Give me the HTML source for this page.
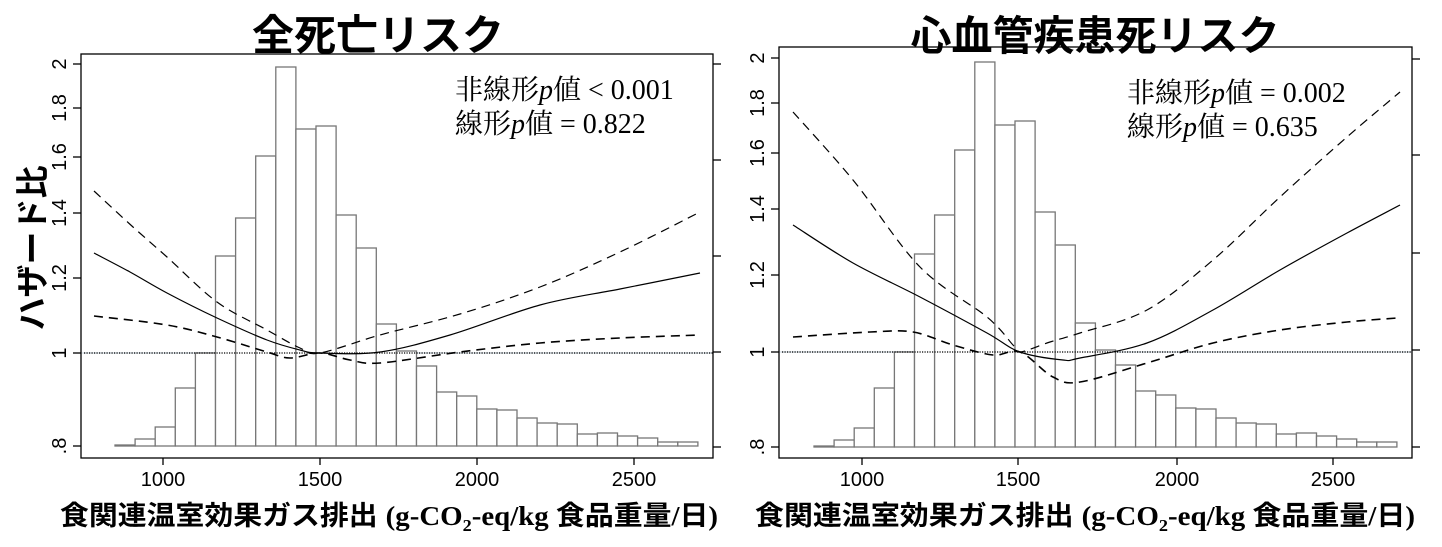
<!DOCTYPE html>
<html><head><meta charset="utf-8"><style>
html,body{margin:0;padding:0;background:#fff;}
svg{display:block;}
.t{font-family:"Liberation Sans","Noto Sans CJK JP",sans-serif;}
.s{font-family:"Liberation Serif","Noto Serif CJK SC",serif;}
</style></head><body>
<svg width="1442" height="547" viewBox="0 0 1442 547" xmlns="http://www.w3.org/2000/svg">
<text x="378" y="50" text-anchor="middle" class="t" font-size="42" font-weight="bold">全死亡リスク</text>
<text x="1095" y="50" text-anchor="middle" class="t" font-size="41" font-weight="bold">心血管疾患死リスク</text>
<text transform="translate(44,248) rotate(-90)" text-anchor="middle" class="t" font-size="33" font-weight="bold">ハザード比</text>

<g>
<line x1="81" y1="353" x2="713" y2="353" stroke="#e3e9ee" stroke-width="2"/>
<g fill="#fff" stroke="#777" stroke-width="1.3">
<rect x="115" y="445" width="20.1" height="1"/>
<rect x="135.1" y="439" width="20.1" height="7"/>
<rect x="155.2" y="427" width="20.1" height="19"/>
<rect x="175.3" y="388" width="20.1" height="58"/>
<rect x="195.4" y="353" width="20.1" height="93"/>
<rect x="215.5" y="256" width="20.1" height="190"/>
<rect x="235.6" y="218" width="20.1" height="228"/>
<rect x="255.7" y="156" width="20.1" height="290"/>
<rect x="275.8" y="67" width="20.1" height="379"/>
<rect x="295.9" y="129" width="20.1" height="317"/>
<rect x="316" y="126" width="20.1" height="320"/>
<rect x="336.1" y="215" width="20.1" height="231"/>
<rect x="356.2" y="248" width="20.1" height="198"/>
<rect x="376.3" y="324" width="20.1" height="122"/>
<rect x="396.4" y="351" width="20.1" height="95"/>
<rect x="416.5" y="366" width="20.1" height="80"/>
<rect x="436.6" y="392" width="20.1" height="54"/>
<rect x="456.7" y="396" width="20.1" height="50"/>
<rect x="476.8" y="409" width="20.1" height="37"/>
<rect x="496.9" y="410" width="20.1" height="36"/>
<rect x="517" y="418" width="20.1" height="28"/>
<rect x="537.1" y="423" width="20.1" height="23"/>
<rect x="557.2" y="424" width="20.1" height="22"/>
<rect x="577.3" y="434" width="20.1" height="12"/>
<rect x="597.4" y="433" width="20.1" height="13"/>
<rect x="617.5" y="436" width="20.1" height="10"/>
<rect x="637.6" y="438" width="20.1" height="8"/>
<rect x="657.7" y="442" width="20.1" height="4"/>
<rect x="677.8" y="442" width="20.1" height="4"/>
</g>
<line x1="84" y1="353" x2="713" y2="353" stroke="#000" stroke-width="1.3" stroke-dasharray="1.2,1.3"/>
<g fill="none" stroke="#000" stroke-width="1.2">
<path class="cr" data-p="94,253 130,272 167,293 217,318 267,340 300,350 320,353 380,352 450,335 540,305 620,289 700,273"/>
<path class="cr" stroke-dasharray="9,6" data-p="94,191 133,227 167,257 217,302 267,330 300,348 320,353 380,335 460,314 540,287 620,252 700,212"/>
<path class="cr" stroke-dasharray="9,6" stroke-width="1.6" data-p="94,316 167,325 217,337 267,352 290,358 320,353 350,360 380,363 460,352 540,343 620,338 700,335"/>
</g>
<rect x="81" y="54" width="632" height="404" fill="none" stroke="#000" stroke-width="1.3"/>
<g stroke="#000" stroke-width="1.3">
<line x1="73" y1="64" x2="81" y2="64"/><line x1="73" y1="108" x2="81" y2="108"/><line x1="73" y1="157" x2="81" y2="157"/><line x1="73" y1="213" x2="81" y2="213"/><line x1="73" y1="278" x2="81" y2="278"/><line x1="73" y1="353" x2="81" y2="353"/><line x1="73" y1="446" x2="81" y2="446"/>
<line x1="713" y1="64" x2="721" y2="64"/><line x1="713" y1="160" x2="721" y2="160"/><line x1="713" y1="256" x2="721" y2="256"/><line x1="713" y1="352" x2="721" y2="352"/><line x1="713" y1="447" x2="721" y2="447"/>
<line x1="163" y1="458" x2="163" y2="465"/><line x1="320" y1="458" x2="320" y2="465"/><line x1="477" y1="458" x2="477" y2="465"/><line x1="634" y1="458" x2="634" y2="465"/>
</g>
<g class="t" font-size="20" text-anchor="middle">
<text transform="translate(66,64) rotate(-90)">2</text>
<text transform="translate(66,108) rotate(-90)">1.8</text>
<text transform="translate(66,157) rotate(-90)">1.6</text>
<text transform="translate(66,213) rotate(-90)">1.4</text>
<text transform="translate(66,278) rotate(-90)">1.2</text>
<text transform="translate(66,353) rotate(-90)">1</text>
<text transform="translate(66,446) rotate(-90)">.8</text>
<text x="163" y="486">1000</text><text x="320" y="486">1500</text><text x="477" y="486">2000</text><text x="634" y="486">2500</text>
</g>
<text x="455" y="99" class="s" font-size="28">非線形<tspan font-style="italic">p</tspan>値 &lt; 0.001</text>
<text x="455" y="133" class="s" font-size="28">線形<tspan font-style="italic">p</tspan>値 = 0.822</text>
<text x="60" y="525" textLength="658" lengthAdjust="spacingAndGlyphs" class="t" font-size="27" font-weight="bold">食関連温室効果ガス排出 <tspan class="s">(g-CO<tspan font-size="17" dy="6">2</tspan><tspan dy="-6">-eq/kg </tspan></tspan>食品重量<tspan class="s">/</tspan>日<tspan class="s">)</tspan></text>
</g>

<g>
<line x1="779" y1="352" x2="1412" y2="352" stroke="#e3e9ee" stroke-width="2"/>
<g fill="#fff" stroke="#777" stroke-width="1.3">
<rect x="814" y="446" width="20.1" height="1"/>
<rect x="834.1" y="440" width="20.1" height="7"/>
<rect x="854.2" y="428" width="20.1" height="19"/>
<rect x="874.3" y="388" width="20.1" height="59"/>
<rect x="894.4" y="352" width="20.1" height="95"/>
<rect x="914.5" y="254" width="20.1" height="193"/>
<rect x="934.6" y="215" width="20.1" height="232"/>
<rect x="954.7" y="150" width="20.1" height="297"/>
<rect x="974.8" y="62" width="20.1" height="385"/>
<rect x="994.9" y="125" width="20.1" height="322"/>
<rect x="1015" y="121" width="20.1" height="326"/>
<rect x="1035.1" y="212" width="20.1" height="235"/>
<rect x="1055.2" y="245" width="20.1" height="202"/>
<rect x="1075.3" y="323" width="20.1" height="124"/>
<rect x="1095.4" y="350" width="20.1" height="97"/>
<rect x="1115.5" y="365" width="20.1" height="82"/>
<rect x="1135.6" y="391" width="20.1" height="56"/>
<rect x="1155.7" y="395" width="20.1" height="52"/>
<rect x="1175.8" y="408" width="20.1" height="39"/>
<rect x="1195.9" y="409" width="20.1" height="38"/>
<rect x="1216" y="418" width="20.1" height="29"/>
<rect x="1236.1" y="423" width="20.1" height="24"/>
<rect x="1256.2" y="424" width="20.1" height="23"/>
<rect x="1276.3" y="434" width="20.1" height="13"/>
<rect x="1296.4" y="433" width="20.1" height="14"/>
<rect x="1316.5" y="436" width="20.1" height="11"/>
<rect x="1336.6" y="439" width="20.1" height="8"/>
<rect x="1356.7" y="442" width="20.1" height="5"/>
<rect x="1376.8" y="442" width="20.1" height="5"/>
</g>
<line x1="782" y1="352" x2="1412" y2="352" stroke="#000" stroke-width="1.3" stroke-dasharray="1.2,1.3"/>
<g fill="none" stroke="#000" stroke-width="1.2">
<path class="cr" data-p="793,225 853,263 920,297 987,333 1020,352 1063,360 1080,358 1147,343 1213,310 1280,270 1347,233 1400,205"/>
<path class="cr" stroke-dasharray="9,6" data-p="793,112 853,180 920,267 987,317 1013,345 1020,352 1050,342 1080,333 1147,310 1213,260 1280,197 1347,137 1400,92"/>
<path class="cr" stroke-dasharray="9,6" stroke-width="1.6" data-p="793,337 870,332 913,332 953,345 993,355 1020,352 1053,377 1080,382 1147,363 1213,343 1280,330 1347,322 1397,318"/>
</g>
<rect x="779" y="47" width="633" height="411" fill="none" stroke="#000" stroke-width="1.3"/>
<g stroke="#000" stroke-width="1.3">
<line x1="771" y1="58" x2="779" y2="58"/><line x1="771" y1="103" x2="779" y2="103"/><line x1="771" y1="153" x2="779" y2="153"/><line x1="771" y1="209" x2="779" y2="209"/><line x1="771" y1="275" x2="779" y2="275"/><line x1="771" y1="352" x2="779" y2="352"/><line x1="771" y1="447" x2="779" y2="447"/>
<line x1="1412" y1="59" x2="1420" y2="59"/><line x1="1412" y1="155" x2="1420" y2="155"/><line x1="1412" y1="253" x2="1420" y2="253"/><line x1="1412" y1="350" x2="1420" y2="350"/><line x1="1412" y1="447" x2="1420" y2="447"/>
<line x1="862" y1="458" x2="862" y2="465"/><line x1="1018" y1="458" x2="1018" y2="465"/><line x1="1177" y1="458" x2="1177" y2="465"/><line x1="1333" y1="458" x2="1333" y2="465"/>
</g>
<g class="t" font-size="20" text-anchor="middle">
<text transform="translate(764,58) rotate(-90)">2</text>
<text transform="translate(764,103) rotate(-90)">1.8</text>
<text transform="translate(764,153) rotate(-90)">1.6</text>
<text transform="translate(764,209) rotate(-90)">1.4</text>
<text transform="translate(764,275) rotate(-90)">1.2</text>
<text transform="translate(764,352) rotate(-90)">1</text>
<text transform="translate(764,447) rotate(-90)">.8</text>
<text x="862" y="486">1000</text><text x="1018" y="486">1500</text><text x="1177" y="486">2000</text><text x="1333" y="486">2500</text>
</g>
<text x="1127" y="102" class="s" font-size="28">非線形<tspan font-style="italic">p</tspan>値 = 0.002</text>
<text x="1127" y="136" class="s" font-size="28">線形<tspan font-style="italic">p</tspan>値 = 0.635</text>
<text x="755" y="525" textLength="660" lengthAdjust="spacingAndGlyphs" class="t" font-size="27" font-weight="bold">食関連温室効果ガス排出 <tspan class="s">(g-CO<tspan font-size="17" dy="6">2</tspan><tspan dy="-6">-eq/kg </tspan></tspan>食品重量<tspan class="s">/</tspan>日<tspan class="s">)</tspan></text>
</g>
</svg>
<script>
document.querySelectorAll('path.cr').forEach(function(el){
  var p=el.getAttribute('data-p').trim().split(/\s+/).map(function(s){return s.split(',').map(Number);});
  var d='M'+p[0][0]+','+p[0][1];
  for(var i=0;i<p.length-1;i++){
    var p0=p[i>0?i-1:i],p1=p[i],p2=p[i+1],p3=p[i+2<p.length?i+2:i+1];
    var c1x=p1[0]+(p2[0]-p0[0])/6,c1y=p1[1]+(p2[1]-p0[1])/6;
    var c2x=p2[0]-(p3[0]-p1[0])/6,c2y=p2[1]-(p3[1]-p1[1])/6;
    d+=' C'+c1x.toFixed(1)+','+c1y.toFixed(1)+' '+c2x.toFixed(1)+','+c2y.toFixed(1)+' '+p2[0]+','+p2[1];
  }
  el.setAttribute('d',d);
});
</script>
</body></html>
